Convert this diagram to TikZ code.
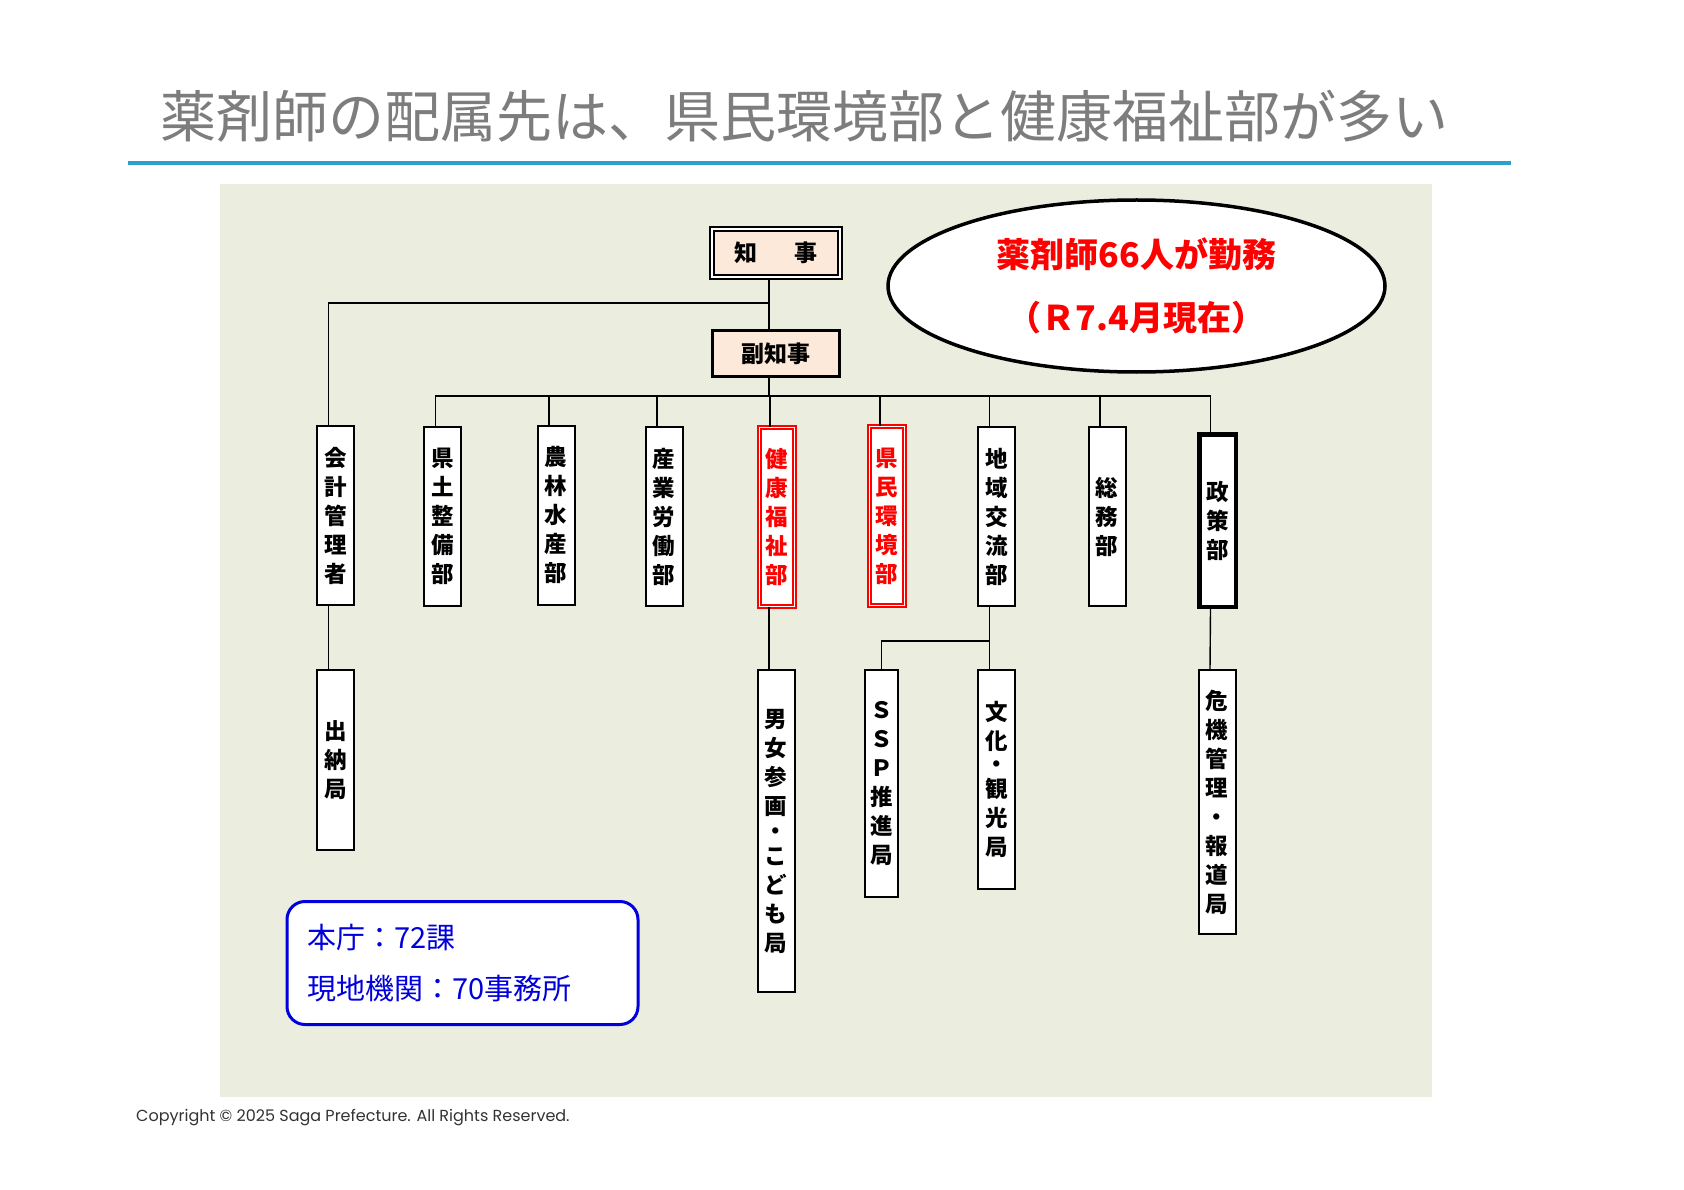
\documentclass[tikz,border=0pt]{standalone}
\usepackage{fontspec}
\usepackage{xcolor}
\usepackage{tikz}
\setmainfont{Noto Sans CJK JP}
\newfontfamily\cpfont{Poppins}
\usetikzlibrary{%
  positioning,calc,
  shapes.geometric
}
\tikzset{
  dept/.style={draw=black,line width=2pt,fill=white,inner sep=0pt,align=center,
    minimum width=37,minimum height=179,
    font=\bfseries\fontsize{22.5}{29}\selectfont},
  deptred/.style={dept,draw=red,text=red,line width=1.6pt,double=white,
    double distance=1.5pt,minimum width=35,minimum height=179},
  wire/.style={line width=1.4pt},
  lk/.style={xshift=-7pt}
}

\begin{document}
\begin{tikzpicture}[x=1pt,y=-1pt]
  \def\pnl{rgb,255:red,235;green,238;blue,223}
  \def\pch{rgb,255:red,252;green,233;blue,218}
  \def\ttl{rgb,255:red,125;green,125;blue,125}
  \def\rul{rgb,255:red,42;green,160;blue,205}
  \def\blu{rgb,255:red,0;green,0;blue,220}
  \useasboundingbox (0,0) rectangle (1684,1190);
  \fill[white] (0,0) rectangle (1684,1190);

  % heading
  \node[anchor=west,text=\ttl,inner sep=0,font=\fontsize{56}{60}\selectfont] (title)
    at (160,116) {薬剤師の配属先は、県民環境部と健康福祉部が多い};
  \draw[draw=\rul,line width=4pt] (128,163) -- (1511,163);
  \fill[fill=\pnl] (220,184) rectangle (1432,1097);
  \node[anchor=west,inner sep=0,text=black!80,font=\cpfont\fontsize{16}{18}\selectfont] (copy)
    at (136,1118) {Copyright © 2025 Saga Prefecture. All Rights Reserved.};

  % top
  \node[draw,line width=2pt,double=white,double distance=2pt,fill=\pch,inner sep=0,
    minimum width=128,minimum height=48,font=\bfseries\fontsize{23}{25}\selectfont]
    (chiji) at (776,253) {知\hspace{1.6em}事};
  \node[draw,line width=3pt,fill=\pch,inner sep=0,minimum width=127,minimum height=46,
    font=\bfseries\fontsize{23}{25}\selectfont] (fuku) at (776,353.5) {副知事};
  \node[ellipse,draw,line width=3.5pt,fill=white,inner sep=0,minimum width=497,
    minimum height=172,align=center,text=red,font=\bfseries\fontsize{34}{63}\selectfont]
    (memo) at (1136.5,286) {薬剤師66人が勤務\\（Ｒ7.4月現在）};

  % departments
  \node[dept] (kaikei) at (335.5,515.5) {会\\計\\管\\理\\者};
  \node[dept] (kendo) at (442.5,516.5) {県\\土\\整\\備\\部};
  \node[dept] (norin) at (556,515) {農\\林\\水\\産\\部};
  \node[dept] (sangyo) at (664,516.5) {産\\業\\労\\働\\部};
  \node[deptred] (kenko) at (777,517) {健\\康\\福\\祉\\部};
  \node[deptred] (kankyo) at (887,516) {県\\民\\環\\境\\部};
  \node[dept] (chiiki) at (996.5,516.5) {地\\域\\交\\流\\部};
  \node[dept] (somu) at (1107,516.5) {総\\務\\部};
  \node[dept,line width=4.5pt,minimum width=36.5,minimum height=172.5] (seisaku)
    at (1217.5,520.5) {政\\策\\部};

  % bureaus
  \node[dept,minimum height=180] (suito) at (335.5,760) {出\\納\\局};
  \node[dept,minimum height=322] (danjo) at (776,831)
    {男\\女\\参\\画\\[-4pt]・\\[-4pt]こ\\ど\\も\\局};
  \node[dept,minimum width=33,minimum height=227] (ssp) at (881.5,783.5) {Ｓ\\Ｓ\\Ｐ\\推\\進\\局};
  \node[dept,minimum height=219] (bunka) at (996.5,779.5) {文\\化\\[-6pt]・\\[-4pt]観\\光\\局};
  \node[dept,minimum height=264] (kiki) at (1217,802) {危\\機\\管\\理\\・\\報\\道\\局};

  \node[draw=\blu,line width=3pt,rounded corners=18pt,fill=white,text width=311,
    inner xsep=20,minimum height=123,align=left,text=\blu,
    font=\fontsize{29}{51}\selectfont] (count) at (462.5,963) {本庁：72課\\現地機関：70事務所};

  % lines
  \draw[wire] ([lk]chiji.south) -- ([lk]fuku.north);
  \draw[wire] ([lk]chiji.south) ++(0,25) coordinate (split) -| ([lk]kaikei.north);
  \draw[wire] ([lk]fuku.south) -- ++(0,18) coordinate (bus);
  \foreach \d in {kendo,norin,sangyo,kenko,kankyo,chiiki,somu,seisaku}
    \draw[wire] ([lk]\d.north) |- (bus);
  \draw[wire] ([lk]kaikei.south) -- ([lk]suito.north);
  \draw[wire] ([lk]danjo.north) -- ([lk]danjo.north |- kenko.south);
  \draw[wire] ([lk]seisaku.south) -- ([lk]kiki.north);
  \draw[wire] ([lk]chiiki.south) -- ([lk]bunka.north);
  \draw[wire] ([lk]chiiki.south) ++(0,34) coordinate (fork) -| (ssp.north);
\end{tikzpicture}
\end{document}
